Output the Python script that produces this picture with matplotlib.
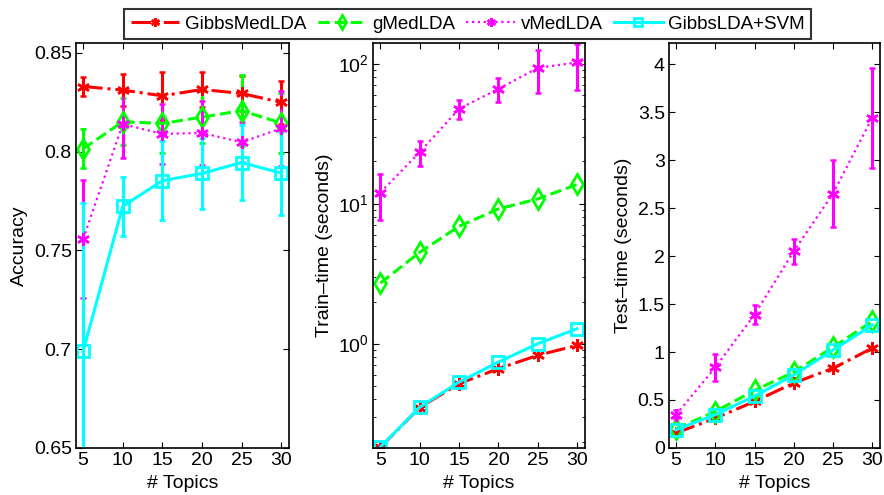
import matplotlib.pyplot as plt
import numpy as np

plt.rcParams['font.family'] = ['Liberation Sans', 'DejaVu Sans']
plt.rcParams['mathtext.fontset'] = 'custom'
plt.rcParams['mathtext.rm'] = 'Liberation Sans'

topics = [5, 10, 15, 20, 25, 30]
methods = ["GibbsMedLDA", "gMedLDA", "vMedLDA", "GibbsLDA+SVM"]

# accuracy (mean, std)
acc_gibbsmed = [0.8330, 0.8312, 0.8283, 0.8315, 0.8295, 0.8250]
acc_gibbsmed_err = [0.005, 0.008, 0.012, 0.009, 0.009, 0.011]
acc_gmed = [0.8015, 0.8152, 0.8143, 0.8175, 0.8208, 0.8145]
acc_gmed_err = [0.010, 0.012, 0.015, 0.013, 0.018, 0.015]
acc_vmed = [0.7558, 0.8140, 0.8090, 0.8095, 0.8048, 0.8118]
acc_vmed_err = [0.030, 0.017, 0.015, 0.016, 0.010, 0.019]
acc_svm = [0.6990, 0.7724, 0.7853, 0.7890, 0.7945, 0.7892]
acc_svm_err = [0.075, 0.015, 0.020, 0.018, 0.019, 0.021]

# train time (seconds)
train_gibbsmed = [0.182, 0.350, 0.518, 0.663, 0.826, 0.973]
train_gmed = [2.71, 4.49, 6.89, 9.16, 10.8, 13.7]
train_vmed = [12.0, 23.3, 47.5, 65.9, 93.0, 102.0]
train_vmed_err = [4.4, 4.6, 7.5, 13.0, 31.0, 37.0]
train_svm = [0.183, 0.352, 0.532, 0.739, 1.00, 1.28]

# test time (seconds)
test_gibbsmed = [0.156, 0.31, 0.485, 0.677, 0.83, 1.04]
test_gmed = [0.20, 0.38, 0.60, 0.79, 1.05, 1.32]
test_vmed = [0.347, 0.84, 1.39, 2.05, 2.65, 3.44]
test_vmed_err = [0.05, 0.14, 0.10, 0.13, 0.35, 0.52]
test_svm = [0.19, 0.347, 0.54, 0.76, 1.02, 1.28]

asterisk = (6, 2, 0)
styles = [
    dict(color='#ff0000', ls='-.', marker=asterisk, ms=9, lw=2.2, mew=1.8),
    dict(color='#00ff00', ls='--', marker='d', ms=10, lw=2.2, mfc='none', mew=2),
    dict(color='#ff00ff', ls=':', marker=asterisk, ms=9, lw=1.6, mew=1.8),
    dict(color='#00ffff', ls='-', marker='s', ms=9, lw=2.2, mfc='none', mew=2),
]

fig = plt.figure(figsize=(8.84, 4.95), dpi=100)
ax1 = fig.add_axes([0.086, 0.095, 0.241, 0.818])
ax2 = fig.add_axes([0.4223, 0.095, 0.2395, 0.818])
ax3 = fig.add_axes([0.7568, 0.095, 0.2387, 0.818])


def draw(ax, series, errs):
    handles = []
    for y, e, st in zip(series, errs, styles):
        c = ax.errorbar(topics, y, yerr=e, elinewidth=2.2, capsize=2.5,
                        capthick=2, **st)
        handles.append(c[0])
    return handles


handles = draw(ax1, [acc_gibbsmed, acc_gmed, acc_vmed, acc_svm],
               [acc_gibbsmed_err, acc_gmed_err, acc_vmed_err, acc_svm_err])
draw(ax2, [train_gibbsmed, train_gmed, train_vmed, train_svm],
     [None, None, train_vmed_err, None])
draw(ax3, [test_gibbsmed, test_gmed, test_vmed, test_svm],
     [None, None, test_vmed_err, None])

fs = 14

ax1.set_ylim(0.65, 0.855)
ax1.set_yticks([0.65, 0.7, 0.75, 0.8, 0.85])
ax1.set_yticklabels(['0.65', '0.7', '0.75', '0.8', '0.85'])
ax1.set_ylabel('Accuracy', fontsize=fs)

ax2.set_yscale('log')
ax2.set_ylim(0.18, 140)
ax2.set_yticks([1, 10, 100])
ax2.set_yticklabels([r'$10^0$', r'$10^1$', r'$10^2$'])
ax2.set_ylabel('Train\u2013time (seconds)', fontsize=fs)

ax3.set_ylim(0, 4.22)
ax3.set_yticks(np.arange(0, 4.01, 0.5))
ax3.set_yticklabels(['0', '0.5', '1', '1.5', '2', '2.5', '3', '3.5', '4'])
ax3.set_ylabel('Test\u2013time (seconds)', fontsize=fs)

for ax in (ax1, ax2, ax3):
    ax.set_xlim(4.1, 31)
    ax.set_xticks(topics)
    ax.set_xlabel('# Topics', fontsize=fs, labelpad=4)
    ax.tick_params(direction='in', top=True, right=True, labelsize=fs,
                   length=4, width=0.8, pad=3)
    ax.tick_params(which='minor', direction='in', top=True, right=True,
                   length=2.5, width=0.6)
    for s in ax.spines.values():
        s.set_linewidth(1.2)

fig.legend(handles, methods, loc='center', bbox_to_anchor=(0.529, 0.951),
           ncol=4, fontsize=13.5, frameon=True, fancybox=False,
           edgecolor='black', handlelength=2.6, handletextpad=0.3,
           columnspacing=0.6, markerscale=0.7, borderpad=0.35,
           borderaxespad=0)
fig.legends[0].get_frame().set_linewidth(1.5)

plt.savefig('out.png', dpi=100)
